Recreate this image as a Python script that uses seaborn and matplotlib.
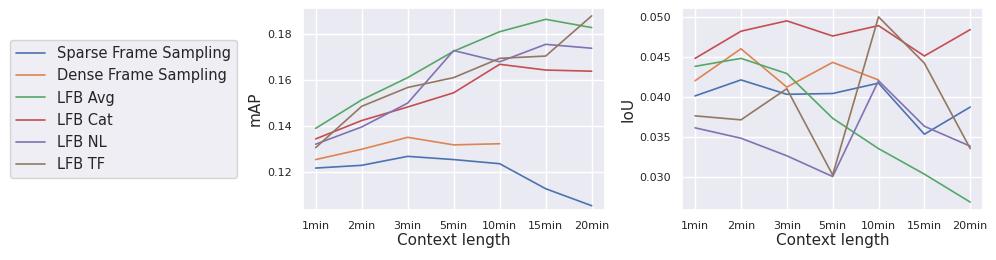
import numpy as np
import pandas as pd
import seaborn as sns
import matplotlib.pyplot as plt

contexts = ["1min", "2min", "3min", "5min", "10min", "15min", "20min"]
methods = ["Sparse Frame Sampling", "Dense Frame Sampling", "LFB Avg",
           "LFB Cat", "LFB NL", "LFB TF"]

map_sparse = [0.1218, 0.1230, 0.1269, 0.1255, 0.1237, 0.1128, 0.1054]
map_dense = [0.1255, 0.1300, 0.1352, 0.1319, 0.1324, np.nan, np.nan]
map_avg = [0.1391, 0.1515, 0.1612, 0.1727, 0.1812, 0.1866, 0.1830]
map_cat = [0.1345, 0.1425, 0.1484, 0.1546, 0.1670, 0.1645, 0.1640]
map_nl = [0.1322, 0.1397, 0.1501, 0.1730, 0.1681, 0.1757, 0.1740]
map_tf = [0.1307, 0.1487, 0.1569, 0.1612, 0.1696, 0.1706, 0.1881]

iou_sparse = [0.0401, 0.0421, 0.0403, 0.0404, 0.0417, 0.0353, 0.0387]
iou_dense = [0.0420, 0.0460, 0.0412, 0.0443, 0.0421, np.nan, np.nan]
iou_avg = [0.0438, 0.0448, 0.0429, 0.0373, 0.0335, 0.0303, 0.0268]
iou_cat = [0.0448, 0.0482, 0.0495, 0.0476, 0.0489, 0.0451, 0.0484]
iou_nl = [0.0361, 0.0348, 0.0326, 0.0300, 0.0420, 0.0363, 0.0338]
iou_tf = [0.0376, 0.0371, 0.0410, 0.0302, 0.0500, 0.0442, 0.0335]


def long_form(series, metric):
    rows = []
    for name, vals in zip(methods, series):
        for ctx, v in zip(contexts, vals):
            rows.append({"Context length": ctx, "Method": name, metric: v})
    return pd.DataFrame(rows).dropna()


df_map = long_form([map_sparse, map_dense, map_avg, map_cat, map_nl, map_tf], "mAP")
df_iou = long_form([iou_sparse, iou_dense, iou_avg, iou_cat, iou_nl, iou_tf], "IoU")

sns.set_theme(style="darkgrid")
fig = plt.figure(figsize=(9.96, 2.6), dpi=100)
ax1 = fig.add_axes([0.304, 0.192, 0.303, 0.777])
ax2 = fig.add_axes([0.685, 0.192, 0.302, 0.777])

for ax, df, metric in [(ax1, df_map, "mAP"), (ax2, df_iou, "IoU")]:
    sns.lineplot(data=df, x="Context length", y=metric, hue="Method",
                 hue_order=methods, ax=ax, linewidth=1.2, legend=(ax is ax1))
    ax.set_xlim(-0.28, 6.28)
    ax.tick_params(axis="both", labelsize=8, pad=2)
    ax.set_xlabel("Context length", fontsize=11, labelpad=1)
    ax.set_ylabel(metric, fontsize=11, labelpad=3)

ax1.set_yticks([0.12, 0.14, 0.16, 0.18])
ax1.set_ylim(0.1035, 0.1915)
ax2.set_yticks([0.030, 0.035, 0.040, 0.045, 0.050])
ax2.set_yticklabels(["0.030", "0.035", "0.040", "0.045", "0.050"])
ax2.set_ylim(0.0258, 0.0511)

handles, labels = ax1.get_legend_handles_labels()
ax1.get_legend().remove()
fig.legend(handles, labels, loc="center left", bbox_to_anchor=(0.0, 0.58),
           fontsize=10.5, frameon=True, borderaxespad=0.7)

fig.savefig("out.png", dpi=100)
